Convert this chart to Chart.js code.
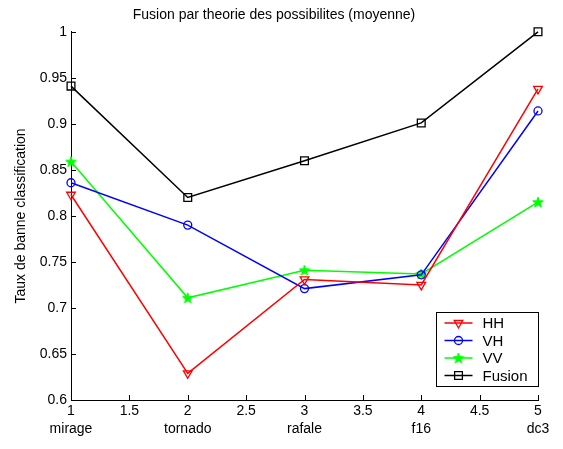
<!DOCTYPE html>
<html>
<head>
<meta charset="utf-8">
<script src="https://cdn.jsdelivr.net/npm/chart.js@4/dist/chart.umd.min.js"></script>
<style>
  html, body { margin: 0; padding: 0; background: #fff; }
  #wrap { width: 563px; height: 449px; }
</style>
</head>
<body>
<div id="wrap"><canvas id="chart" width="563" height="449"></canvas></div>
<script>
'use strict';

/* global Chart */

// x positions and their class names
const xValues = [1, 2, 3, 4, 5];
const classNames = ['mirage', 'tornado', 'rafale', 'f16', 'dc3'];

// taux de bonne classification per class
const hhValues = [0.823, 0.629, 0.731, 0.725, 0.938];
const vhValues = [0.836, 0.790, 0.721, 0.736, 0.914];
const vvValues = [0.859, 0.711, 0.741, 0.737, 0.815];
const fusionValues = [0.941, 0.820, 0.860, 0.901, 1.000];

const FONT = '"Liberation Sans", Arial, Helvetica, sans-serif';

function toPoints(values) {
  return values.map((v, i) => ({ x: xValues[i], y: v }));
}

// filled pentagram marker (matlab 'p')
function makeStar(color, size) {
  const c = document.createElement('canvas');
  c.width = size; c.height = size;
  const ctx = c.getContext('2d');
  const cx = size / 2, cy = size / 2 + 0.5;
  const R = size / 2 - 0.5, r = R * 0.42;
  ctx.beginPath();
  for (let i = 0; i < 10; i++) {
    const a = -Math.PI / 2 + i * Math.PI / 5;
    const rr = i % 2 === 0 ? R : r;
    ctx.lineTo(cx + rr * Math.cos(a), cy + rr * Math.sin(a));
  }
  ctx.closePath();
  ctx.fillStyle = color;
  ctx.fill();
  ctx.strokeStyle = color;
  ctx.lineWidth = 1;
  ctx.stroke();
  return c;
}

const starImg = makeStar('#00ff00', 12);

function series(label, values, color, style, radius, extra) {
  return Object.assign({
    label: label,
    data: toPoints(values),
    borderColor: color,
    backgroundColor: color,
    borderWidth: 1.5,
    pointStyle: style,
    pointRadius: radius,
    pointHoverRadius: radius,
    pointBorderWidth: 1.3,
    pointBorderColor: color,
    pointBackgroundColor: 'rgba(0,0,0,0)',
    clip: false,
    tension: 0
  }, extra || {});
}

// matlab style ticks pointing into the axes
const inwardTicks = {
  id: 'inwardTicks',
  afterDraw(chart) {
    const ctx = chart.ctx;
    const area = chart.chartArea;
    const xs = chart.scales.x, ys = chart.scales.y;
    ctx.save();
    ctx.strokeStyle = '#000';
    ctx.lineWidth = 1;
    ctx.beginPath();
    xs.ticks.forEach(t => {
      const px = Math.round(xs.getPixelForValue(t.value)) + 0.5;
      ctx.moveTo(px, area.bottom);
      ctx.lineTo(px, area.bottom - 5);
    });
    ys.ticks.forEach(t => {
      const py = Math.round(ys.getPixelForValue(t.value)) + 0.5;
      ctx.moveTo(area.left, py);
      ctx.lineTo(area.left + 5, py);
    });
    ctx.stroke();
    ctx.restore();
  }
};

// legend box inside the lower right of the axes
const boxLegend = {
  id: 'boxLegend',
  afterDraw(chart) {
    const ctx = chart.ctx;
    const area = chart.chartArea;
    const sets = chart.data.datasets;
    const w = 102, rowH = 17.5;
    const h = sets.length * rowH + 4;
    const x0 = area.right - w - 0.5;
    const y0 = area.bottom - 14 - h;
    ctx.save();
    ctx.fillStyle = '#fff';
    ctx.fillRect(x0, y0, w, h);
    ctx.strokeStyle = '#000';
    ctx.lineWidth = 1;
    ctx.strokeRect(Math.round(x0) + 0.5, Math.round(y0) + 0.5, w, h);
    ctx.font = '15px ' + FONT;
    ctx.textBaseline = 'middle';
    sets.forEach((ds, i) => {
      const cy = y0 + 11 + i * rowH;
      ctx.strokeStyle = ds.borderColor;
      ctx.lineWidth = 1.5;
      ctx.beginPath();
      ctx.moveTo(x0 + 9, cy);
      ctx.lineTo(x0 + 37, cy);
      ctx.stroke();
      ctx.lineWidth = ds.pointBorderWidth;
      ctx.fillStyle = 'rgba(0,0,0,0)';
      Chart.helpers.drawPoint(ctx, {
        pointStyle: ds.pointStyle,
        rotation: ds.pointRotation || 0,
        radius: ds.pointRadius,
        borderWidth: ds.pointBorderWidth
      }, x0 + 23, cy);
      ctx.fillStyle = '#000';
      ctx.fillText(ds.label, x0 + 47, cy + 1);
    });
    ctx.restore();
  }
};

new Chart(document.getElementById('chart'), {
  type: 'line',
  data: {
    datasets: [
      series('HH', hhValues, '#ff0000', 'triangle', 5, { pointRotation: 180 }),
      series('VH', vhValues, '#0000ff', 'circle', 4),
      series('VV', vvValues, '#00ff00', starImg, 6),
      series('Fusion', fusionValues, '#000000', 'rect', 5.5)
    ]
  },
  options: {
    responsive: false,
    animation: false,
    devicePixelRatio: 1,
    layout: { padding: { left: 10, right: 25, top: 0, bottom: 0 } },
    plugins: {
      legend: { display: false },
      tooltip: { enabled: false },
      title: {
        display: true,
        text: 'Fusion par theorie des possibilites (moyenne)',
        color: '#000',
        font: { family: FONT, size: 14, weight: 'normal' },
        padding: { top: 7, bottom: 8 }
      }
    },
    scales: {
      x: {
        type: 'linear',
        min: 1,
        max: 5,
        afterFit(scale) { scale.height = 49; },
        grid: { display: false, drawTicks: false },
        border: { display: true, color: '#000', width: 1 },
        ticks: {
          stepSize: 0.5,
          padding: 2,
          color: '#000',
          maxRotation: 0,
          autoSkip: false,
          font: { family: FONT, size: 14, lineHeight: 1.3 },
          callback(v) {
            const idx = xValues.indexOf(v);
            const txt = String(Number(v.toFixed(2)));
            return idx >= 0 ? [txt, classNames[idx]] : [txt, ''];
          }
        }
      },
      y: {
        min: 0.6,
        max: 1,
        afterFit(scale) { scale.width = 61; },
        grid: { display: false, drawTicks: false },
        border: { display: true, color: '#000', width: 1 },
        ticks: {
          stepSize: 0.05,
          padding: 4,
          color: '#000',
          font: { family: FONT, size: 14 },
          callback(v) { return String(Number(v.toFixed(2))); }
        },
        title: {
          display: true,
          text: 'Taux de banne classification',
          color: '#000',
          font: { family: FONT, size: 14 },
          padding: { top: 3, bottom: 0 }
        }
      }
    }
  },
  plugins: [inwardTicks, boxLegend]
});
</script>
</body>
</html>
